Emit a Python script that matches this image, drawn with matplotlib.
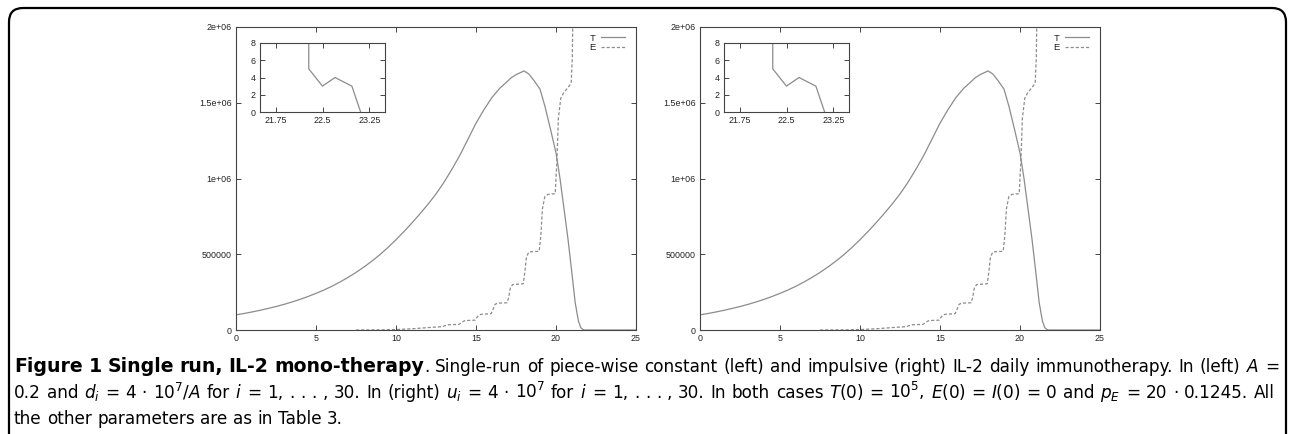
import matplotlib
matplotlib.use("Agg")
import matplotlib.pyplot as plt
from matplotlib.patches import FancyBboxPatch
from matplotlib.transforms import IdentityTransform

# ---------------- data ----------------
t_T = [0, 0.5, 1, 1.5, 2, 2.5, 3, 3.5, 4, 4.5, 5, 5.5, 6, 6.5, 7, 7.5, 8, 8.5,
       9, 9.5, 10, 10.5, 11, 11.5, 12, 12.5, 13, 13.5, 14, 14.5, 15, 15.5, 16,
       16.5, 17, 17.2, 17.5, 18, 18.3, 18.6, 19, 19.3, 19.6, 20, 20.25, 20.5,
       20.75, 21, 21.2, 21.4, 21.55, 21.7, 21.8, 25]
T_vals = [0.100e6, 0.109e6, 0.119e6, 0.130e6, 0.142e6, 0.155e6, 0.169e6,
          0.185e6, 0.202e6, 0.221e6, 0.242e6, 0.264e6, 0.289e6, 0.317e6,
          0.347e6, 0.380e6, 0.416e6, 0.455e6, 0.498e6, 0.545e6, 0.596e6,
          0.650e6, 0.707e6, 0.767e6, 0.830e6, 0.898e6, 0.975e6, 1.062e6,
          1.155e6, 1.260e6, 1.365e6, 1.455e6, 1.535e6, 1.597e6, 1.645e6,
          1.665e6, 1.685e6, 1.710e6, 1.690e6, 1.650e6, 1.590e6, 1.480e6,
          1.350e6, 1.170e6, 1.000e6, 0.800e6, 0.600e6, 0.370e6, 0.180e6,
          0.060e6, 0.015e6, 0.002e6, 0.0, 0.0]

t_E = [7.5, 8, 9, 10, 11, 12, 12.9, 13.1, 13.3, 13.95, 14.1, 14.3, 14.95,
       15.08, 15.2, 15.35, 15.95, 16.08, 16.2, 16.35, 16.95, 17.05, 17.15,
       17.3, 17.95, 18.05, 18.15, 18.3, 18.95, 19.05, 19.15, 19.3, 19.5,
       19.95, 20.05, 20.15, 20.3, 20.5, 20.75, 20.95, 21.02, 21.08, 21.15]
E_vals = [0.0, 0.0005e6, 0.001e6, 0.003e6, 0.008e6, 0.016e6, 0.022e6,
          0.030e6, 0.035e6, 0.037e6, 0.050e6, 0.062e6, 0.065e6, 0.085e6,
          0.100e6, 0.104e6, 0.108e6, 0.140e6, 0.170e6, 0.177e6, 0.180e6,
          0.220e6, 0.280e6, 0.300e6, 0.305e6, 0.380e6, 0.480e6, 0.515e6,
          0.520e6, 0.620e6, 0.800e6, 0.880e6, 0.895e6, 0.900e6, 1.100e6,
          1.400e6, 1.530e6, 1.570e6, 1.600e6, 1.630e6, 1.800e6, 2.300e6,
          3.000e6]

t_inset = [22.28, 22.28, 22.5, 22.7, 22.97, 23.11]
T_inset = [20, 5, 3, 4, 3, 0]

x_ticks = [0, 5, 10, 15, 20, 25]
y_ticks = [0, 500000, 1000000, 1500000, 2000000]
y_tick_labels = ["0", "500000", "1e+06", "1.5e+06", "2e+06"]
inset_x_ticks = [21.75, 22.5, 23.25]
inset_x_labels = ["21.75", "22.5", "23.25"]
inset_y_ticks = [0, 2, 4, 6, 8]
series_labels = ["T", "E"]

# ---------------- figure ----------------
W, H = 1290, 434
fig = plt.figure(figsize=(W / 100, H / 100), dpi=100)
fig.patch.set_facecolor("white")

line_col = "#8c8c8c"
spine_col = "#444444"
tick_font = "Liberation Sans"


def style_axes(ax, fs):
    for s in ax.spines.values():
        s.set_color(spine_col)
        s.set_linewidth(0.8)
    ax.tick_params(direction="in", length=3.5, width=0.7, colors=spine_col,
                   labelcolor="#222222", labelsize=fs, top=True, right=True,
                   pad=3)
    for lab in ax.get_xticklabels() + ax.get_yticklabels():
        lab.set_fontfamily(tick_font)


def panel(x0_px):
    ax = fig.add_axes([x0_px / W, 1 - 330 / H, 400 / W, 303 / H])
    ax.plot(t_T, T_vals, color=line_col, lw=0.9, label=series_labels[0])
    ax.plot(t_E, E_vals, color=line_col, lw=0.9, linestyle=(0, (2.5, 1.6)),
            label=series_labels[1])
    ax.set_xlim(0, 25)
    ax.set_ylim(0, 2e6)
    ax.set_xticks(x_ticks)
    ax.set_xticklabels([str(v) for v in x_ticks])
    ax.set_yticks(y_ticks)
    ax.set_yticklabels(y_tick_labels)
    style_axes(ax, 6.4)
    leg = ax.legend(loc="upper right", markerfirst=False, frameon=False,
                    handlelength=2.6, handletextpad=0.6, labelspacing=0.05,
                    borderaxespad=0.3, bbox_to_anchor=(0.99, 1.0),
                    prop={"family": tick_font, "size": 6.8})
    for txt in leg.get_texts():
        txt.set_color("#222222")

    ins = fig.add_axes([(x0_px + 24) / W, 1 - 112 / H, 125 / W, 69 / H])
    ins.plot(t_inset, T_inset, color=line_col, lw=0.9)
    ins.set_xlim(21.5, 23.5)
    ins.set_ylim(0, 8)
    ins.set_xticks(inset_x_ticks)
    ins.set_xticklabels(inset_x_labels)
    ins.set_yticks(inset_y_ticks)
    ins.set_yticklabels([str(v) for v in inset_y_ticks])
    style_axes(ins, 6.4)


panel(236)
panel(700)

# ---------------- border ----------------
border = FancyBboxPatch((9, -40), 1277, 426 + 40,
                        boxstyle="round,pad=0,rounding_size=14",
                        transform=IdentityTransform(), fill=False,
                        edgecolor="black", linewidth=1.6)
fig.patches.append(border)

# ---------------- caption ----------------
cap_font = "DejaVu Sans"
size_normal = 12.2
size_bold = 13.6
plt.rcParams["mathtext.fontset"] = "custom"
plt.rcParams["mathtext.rm"] = cap_font
plt.rcParams["mathtext.it"] = cap_font + ":italic"
plt.rcParams["mathtext.bf"] = cap_font + ":bold"

line1 = [[("Figure", True)], [("1", True)], [("Single", True)], [("run,", True)],
         [("IL-2", True)], [("mono-therapy", True), (".", False)],
         "Single-run", "of", "piece-wise", "constant", "(left)", "and",
         "impulsive", "(right)", "IL-2", "daily", "immunotherapy.", "In",
         "(left)", "$A$", "="]
line2 = ["0.2", "and", "$d_i$", "=", "4", "·", "10$^7$/$A$", "for", "$i$", "=",
         "1,", ".", ".", ".", ",", "30.", "In", "(right)", "$u_i$", "=", "4",
         "·", "10$^7$", "for", "$i$", "=", "1,", ".", ".", ".", ",", "30.", "In",
         "both", "cases", "$T$(0)", "=", "10$^5$,", "$E$(0)", "=", "$I$(0)", "=",
         "0", "and", "$p_E$", "=", "20", "·", "0.1245.", "All"]
line3 = ["the", "other", "parameters", "are", "as", "in", "Table", "3."]

renderer = fig.canvas.get_renderer()


def make_text(s, bold):
    return fig.text(0, 0, s, transform=IdentityTransform(),
                    fontsize=size_bold if bold else size_normal,
                    fontfamily=cap_font, fontweight="bold" if bold else "normal",
                    color="black", va="baseline", ha="left")


def width_of(t):
    return t.get_window_extent(renderer).width


def space_width():
    a = make_text("a a", False)
    b = make_text("aa", False)
    w = width_of(a) - width_of(b)
    a.remove()
    b.remove()
    return w


def draw_line(tokens, y, x_left=14, x_right=None):
    items = []
    for tok in tokens:
        if isinstance(tok, str):
            tok = [(tok, False)]
        pieces = []
        w = 0
        for s, b in tok:
            t = make_text(s, b)
            pieces.append((t, w))
            w += width_of(t)
        items.append((pieces, w))
    total = sum(w for _, w in items)
    if x_right is None:
        gap = space_width()
    else:
        gap = (x_right - x_left - total) / (len(items) - 1)
    x = x_left
    for pieces, w in items:
        for t, off in pieces:
            t.set_position((x + off, y))
        x += w + gap


draw_line(line1, H - 372, x_right=1279)
draw_line(line2, H - 398, x_right=1275)
draw_line(line3, H - 424)

fig.savefig("out.png", dpi=100)
